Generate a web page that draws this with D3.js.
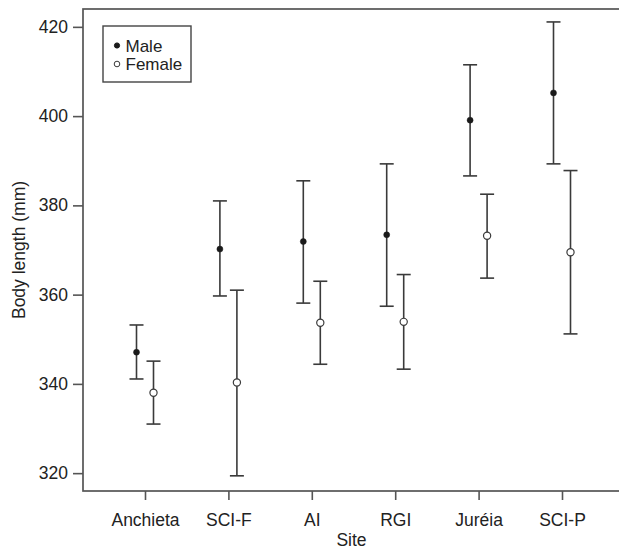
<!DOCTYPE html>
<html>
<head>
<meta charset="utf-8">
<script src="https://cdn.jsdelivr.net/npm/d3@7"></script>
<style>
  body { margin: 0; background: #fff; }
  svg text { font-family: "Liberation Sans", Arial, sans-serif; fill: #222; }
</style>
</head>
<body>
<div id="chart"></div>
<script>
// values
const sites = ["Anchieta", "SCI-F", "AI", "RGI", "Juréia", "SCI-P"];
const maleMean = [347.1, 370.2, 371.9, 373.4, 399.1, 405.2];
const maleLow = [341.1, 359.7, 358.1, 357.4, 386.6, 389.3];
const maleHigh = [353.2, 381.0, 385.5, 389.3, 411.5, 421.1];
const femaleMean = [338.0, 340.3, 353.7, 353.9, 373.2, 369.5];
const femaleLow = [331.0, 319.4, 344.4, 343.3, 363.7, 351.2];
const femaleHigh = [345.1, 361.0, 363.0, 364.5, 382.5, 387.8];
const yTicks = [320, 340, 360, 380, 400, 420];

const width = 619, height = 549;
const margin = { top: 9, right: -5, bottom: 58, left: 83 };
const innerW = width - margin.left - margin.right;
const innerH = height - margin.top - margin.bottom;
const ink = "#3a3a3a";

const svg = d3.select("#chart").append("svg")
    .attr("width", width)
    .attr("height", height);

const g = svg.append("g")
    .attr("transform", `translate(${margin.left}, ${margin.top})`);

// first tick sits ~62px in from the left edge, step ~83.4
const xScale = d3.scalePoint().domain(sites).range([62, 62 + 83.4 * 5]);
const yScale = d3.scaleLinear().domain([316, 424]).range([innerH, 0]);

// frame (right side falls outside the view)
g.append("rect")
    .attr("width", innerW)
    .attr("height", innerH)
    .attr("fill", "none")
    .attr("stroke", "#555")
    .attr("stroke-width", 1.7);

const xAxis = d3.axisBottom(xScale).tickSize(9).tickSizeOuter(0).tickPadding(14);
const yAxis = d3.axisLeft(yScale).tickValues(yTicks).tickSize(10).tickSizeOuter(0).tickPadding(5);

const xg = g.append("g").attr("transform", `translate(0, ${innerH})`).call(xAxis);
const yg = g.append("g").call(yAxis);
[xg, yg].forEach(a => {
    a.select(".domain").remove();
    a.selectAll("line").attr("stroke", "#555").attr("stroke-width", 1.6);
    a.selectAll("text").style("font-size", "17.5px").style("fill", "#222");
});

// axis titles
g.append("text")
    .attr("x", (xScale("AI") + xScale("RGI")) / 2 - 2)
    .attr("y", innerH + 55)
    .attr("text-anchor", "middle")
    .style("font-size", "17.5px")
    .text("Site");

g.append("text")
    .attr("transform", `translate(${-58.5}, ${innerH / 2}) rotate(-90)`)
    .attr("text-anchor", "middle")
    .style("font-size", "17.5px")
    .text("Body length (mm)");

// build rows for the error bars
const rows = [];
sites.forEach((s, i) => {
    rows.push({ site: s, sex: "m", mean: maleMean[i], lo: maleLow[i], hi: maleHigh[i] });
    rows.push({ site: s, sex: "f", mean: femaleMean[i], lo: femaleLow[i], hi: femaleHigh[i] });
});
const off = { m: -8.5, f: 8.5 };
const cap = 7;

const bars = g.selectAll(".bar").data(rows).join("g")
    .attr("class", "bar")
    .attr("transform", d => `translate(${xScale(d.site) + off[d.sex]}, 0)`);

bars.append("line")
    .attr("y1", d => yScale(d.lo))
    .attr("y2", d => yScale(d.hi))
    .attr("stroke", ink).attr("stroke-width", 1.6);

bars.append("line")
    .attr("x1", -cap).attr("x2", cap)
    .attr("y1", d => yScale(d.hi)).attr("y2", d => yScale(d.hi))
    .attr("stroke", ink).attr("stroke-width", 1.6);

bars.append("line")
    .attr("x1", -cap).attr("x2", cap)
    .attr("y1", d => yScale(d.lo)).attr("y2", d => yScale(d.lo))
    .attr("stroke", ink).attr("stroke-width", 1.6);

bars.append("circle")
    .attr("cy", d => yScale(d.mean))
    .attr("r", d => d.sex === "m" ? 3 : 3.6)
    .attr("fill", d => d.sex === "m" ? "#1a1a1a" : "#fff")
    .attr("stroke", d => d.sex === "m" ? "#1a1a1a" : ink)
    .attr("stroke-width", d => d.sex === "m" ? 0.5 : 1.2);

// legend
const leg = svg.append("g").attr("transform", "translate(103, 26)");
leg.append("rect")
    .attr("width", 88).attr("height", 56)
    .attr("fill", "#fff").attr("stroke", "#444").attr("stroke-width", 1.4);
const legItems = [{ label: "Male", sex: "m" }, { label: "Female", sex: "f" }];
legItems.forEach((d, i) => {
    const y = 19.5 + i * 18.5;
    leg.append("circle")
        .attr("cx", 14).attr("cy", y)
        .attr("r", d.sex === "m" ? 2.6 : 2.8)
        .attr("fill", d.sex === "m" ? "#1a1a1a" : "#fff")
        .attr("stroke", d.sex === "m" ? "#1a1a1a" : ink)
        .attr("stroke-width", 1);
    leg.append("text")
        .attr("x", 22.5).attr("y", y)
        .attr("dy", "0.36em")
        .style("font-size", "17px")
        .text(d.label);
});
</script>
</body>
</html>
